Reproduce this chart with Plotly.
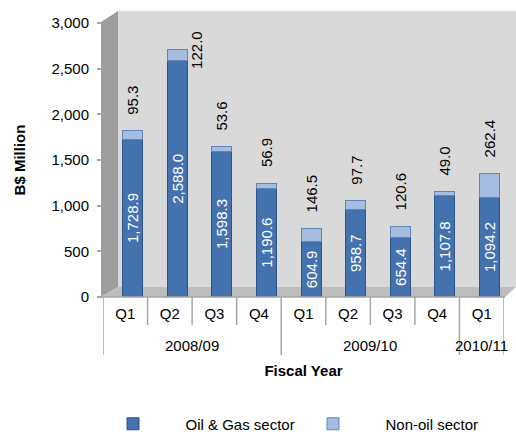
import plotly.graph_objects as go

# ---- data ----
years = ["2008/09", "2008/09", "2008/09", "2008/09",
         "2009/10", "2009/10", "2009/10", "2009/10", "2010/11"]
quarters = ["Q1", "Q2", "Q3", "Q4", "Q1", "Q2", "Q3", "Q4", "Q1"]
oil_gas = [1728.9, 2588.0, 1598.3, 1190.6, 604.9, 958.7, 654.4, 1107.8, 1094.2]
non_oil = [95.3, 122.0, 53.6, 56.9, 146.5, 97.7, 120.6, 49.0, 262.4]
y_ticks = [0, 500, 1000, 1500, 2000, 2500, 3000]

FONT = "Liberation Sans, Arial, sans-serif"
OIL_COL = "#4372AF"
OIL_LINE = "#2B5589"
NON_COL = "#A5BDE1"
NON_LINE = "#5F84B9"

# plot area in pixels (for decoration helpers)
L, R, T, B = 103, 504, 23, 297
W_, H_ = 516, 436
def px(x):
    return (x - L) / (R - L)
def py(y):
    return (B - y) / (B - T)

idx = list(range(len(quarters)))
totals = [a + b for a, b in zip(oil_gas, non_oil)]
BAR_W = 0.45
SHIFT = 0.17

fig = go.Figure()
fig.add_trace(go.Bar(
    x=idx, y=oil_gas, name="Oil & Gas sector", legend="legend",
    width=BAR_W, offset=-BAR_W / 2 + SHIFT,
    marker=dict(color=OIL_COL, line=dict(color=OIL_LINE, width=1)),
    text=[f"{v:,.1f}" for v in oil_gas], textposition="inside",
    insidetextanchor="middle", textangle=-90, constraintext="none",
    insidetextfont=dict(color="white", size=15, family=FONT),
    hoverinfo="skip",
))
fig.add_trace(go.Bar(
    x=idx, y=non_oil, name="Non-oil sector", legend="legend2",
    width=BAR_W, offset=-BAR_W / 2 + SHIFT,
    marker=dict(color=NON_COL, line=dict(color=NON_LINE, width=1)),
    hoverinfo="skip",
))

# non-oil value labels above the bars
label_style = {1: dict(xshift=19, yanchor="middle", yshift=0)}
for i, (t, v) in enumerate(zip(totals, non_oil)):
    st = dict(xshift=0, yanchor="bottom", yshift=14)
    st.update(label_style.get(i, {}))
    fig.add_annotation(x=i + SHIFT, y=t, text=f"{v:,.1f}", textangle=-90,
                       showarrow=False, font=dict(size=15, color="black", family=FONT),
                       xanchor="center", **st)

# year group labels
groups = []
for i, yv in enumerate(years):
    if not groups or groups[-1][0] != yv:
        groups.append([yv, i, i])
    else:
        groups[-1][2] = i
for yv, a, b in groups:
    fig.add_annotation(x=(a + b) / 2, y=py(345), yref="paper", text=yv,
                       showarrow=False, font=dict(size=15, color="black", family=FONT),
                       xanchor="center", yanchor="middle")

shapes = []
# 3D-style walls (decoration)
shapes.append(dict(type="path", xref="paper", yref="paper", layer="below",
                   path=f"M{px(118)},{py(287)} L{px(118)},{py(11)} L{px(W_)},{py(11)} L{px(W_)},{py(287)} Z",
                   fillcolor="#D9D9D9", line=dict(width=0)))
shapes.append(dict(type="path", xref="paper", yref="paper", layer="below",
                   path=f"M{px(101)},{py(297)} L{px(101)},{py(22)} L{px(118)},{py(11)} L{px(118)},{py(287)} Z",
                   fillcolor="#9E9E9E", line=dict(width=0)))
shapes.append(dict(type="path", xref="paper", yref="paper", layer="below",
                   path=f"M{px(101)},{py(297)} L{px(118)},{py(287)} L{px(W_)},{py(287)} L{px(R + 1)},{py(297)} Z",
                   fillcolor="#BDBDBD", line=dict(width=0)))
# category dividers
for k in range(len(quarters) + 1):
    is_group_edge = k == 0 or k == len(quarters) or years[k] != years[k - 1]
    y_end = 355 if is_group_edge else 325
    shapes.append(dict(type="line", xref="x", yref="paper",
                       x0=k - 0.5, x1=k - 0.5, y0=0, y1=py(y_end),
                       line=dict(color="#A6A6A6", width=1.5)))
# front floor edge
shapes.append(dict(type="line", xref="paper", yref="paper",
                   x0=px(101), x1=px(R + 1), y0=0, y1=0,
                   line=dict(color="#A6A6A6", width=1.5)))

legend_common = dict(orientation="h", xanchor="left", y=py(424), yanchor="middle",
                     itemwidth=95, font=dict(size=15, family=FONT), itemclick=False,
                     bgcolor="rgba(0,0,0,0)")

fig.update_layout(
    width=W_, height=H_,
    margin=dict(l=L, r=W_ - R, t=T, b=H_ - B, autoexpand=False),
    barmode="stack",
    paper_bgcolor="white", plot_bgcolor="rgba(0,0,0,0)",
    font=dict(family=FONT, size=15, color="black"),
    shapes=shapes,
    showlegend=True,
    legend=dict(x=px(80.5), **legend_common),
    legend2=dict(x=px(280.5), **legend_common),
    xaxis=dict(range=[-0.5, len(quarters) - 0.5], tickvals=idx, ticktext=quarters,
               showgrid=False, zeroline=False, showline=False, ticks="",
               ticklabelstandoff=6, tickfont=dict(size=15),
               title=dict(text="<b>Fiscal Year</b>", font=dict(size=15), standoff=44),
               fixedrange=True),
    yaxis=dict(range=[0, 3000], tickvals=y_ticks, tickformat=",",
               showgrid=False, zeroline=False, showline=False,
               ticks="outside", ticklen=5, tickcolor="#A6A6A6", tickwidth=1.5,
               ticklabelstandoff=5, tickfont=dict(size=15),
               title=dict(text="<b>B$ Million</b>", font=dict(size=15), standoff=22),
               fixedrange=True),
)

fig.write_html("out.html")
